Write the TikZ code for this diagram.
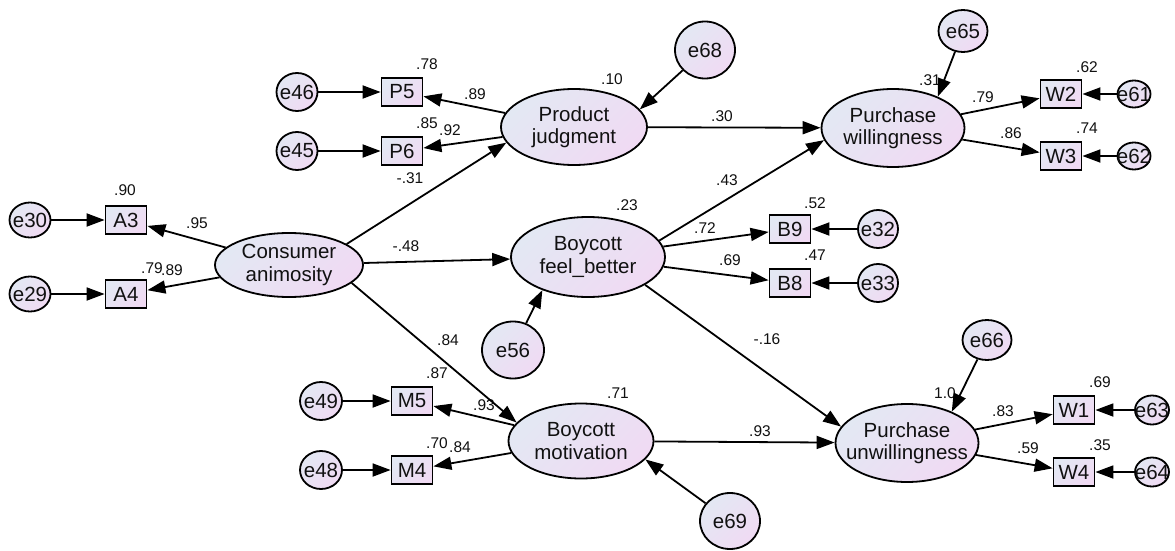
\documentclass[tikz,border=0pt]{standalone}
\usepackage{fontspec}
\setmainfont{Liberation Sans}
\usetikzlibrary{shapes.geometric,arrows.meta}
\definecolor{shA}{HTML}{E3E8F3}
\definecolor{shB}{HTML}{F0DAF3}
\definecolor{txt}{HTML}{111111}
\newcommand{\zw}[1]{\makebox[0pt]{#1}}
\tikzset{
  base/.style={draw=black, line width=1.8pt, top color=shA, bottom color=shB, shading angle=45, inner sep=0pt, text=txt, font=\fontsize{20.5}{22.5}\selectfont},
  lat/.style={base, ellipse, align=center},
  err/.style={base, ellipse},
  obs/.style={base, rectangle, minimum width=41pt, minimum height=28pt},
  num/.style={inner sep=0pt, text=txt, font=\fontsize{15.5}{17}\selectfont},
  arr/.style={line width=1.8pt, -{Triangle[length=18pt,width=13pt]}}
}
\begin{document}
\begin{tikzpicture}[x=1pt,y=-1pt]
\useasboundingbox[fill=white] (0,0) rectangle (1175,551);
% latent variables
\node[lat, minimum width=148pt, minimum height=64pt] (ca) at (289,265) {\zw{Consumer}\\\zw{animosity}};
\node[lat, minimum width=146pt, minimum height=76pt] (pj) at (574,127) {\zw{Product}\\\zw{judgment}};
\node[lat, minimum width=143pt, minimum height=78pt] (pw) at (893,128) {\zw{Purchase}\\\zw{willingness}};
\node[lat, minimum width=154pt, minimum height=80pt] (bfb) at (588,257) {\zw{Boycott}\\\zw{feel\_better}};
\node[lat, minimum width=145pt, minimum height=75pt] (bm) at (581,441) {\zw{Boycott}\\\zw{motivation}};
\node[lat, minimum width=143pt, minimum height=78pt] (pu) at (907,443) {\zw{Purchase}\\\zw{unwillingness}};
% observed
\node[obs] (a3) at (126,220) {A3};
\node[obs] (a4) at (126,294) {A4};
\node[obs] (p5) at (402,92) {P5};
\node[obs] (p6) at (402,151) {P6};
\node[obs] (w2) at (1061,94) {W2};
\node[obs] (w3) at (1061,156) {W3};
\node[obs] (b9) at (790,229) {B9};
\node[obs] (b8) at (790,283) {B8};
\node[obs] (m5) at (412,401) {M5};
\node[obs] (m4) at (412,470) {M4};
\node[obs] (w1) at (1074,410) {W1};
\node[obs] (w4) at (1074,472) {W4};
% errors
\node[err, minimum width=41pt, minimum height=35pt] (e30) at (30,220) {\zw{e30}};
\node[err, minimum width=41pt, minimum height=35pt] (e29) at (30,294) {\zw{e29}};
\node[err, minimum width=41pt, minimum height=38pt] (e46) at (297,92) {\zw{e46}};
\node[err, minimum width=41pt, minimum height=38pt] (e45) at (297,151) {\zw{e45}};
\node[err, minimum width=33pt, minimum height=27pt] (e61) at (1134,94) {\zw{e61}};
\node[err, minimum width=33pt, minimum height=27pt] (e62) at (1134,156) {\zw{e62}};
\node[err, minimum width=40pt, minimum height=38pt] (e32) at (878,229) {\zw{e32}};
\node[err, minimum width=40pt, minimum height=38pt] (e33) at (878,283) {\zw{e33}};
\node[err, minimum width=42pt, minimum height=38pt] (e49) at (321,401) {\zw{e49}};
\node[err, minimum width=42pt, minimum height=38pt] (e48) at (321,470) {\zw{e48}};
\node[err, minimum width=34pt, minimum height=29pt] (e63) at (1152,410) {\zw{e63}};
\node[err, minimum width=34pt, minimum height=29pt] (e64) at (1152,472) {\zw{e64}};
\node[err, minimum width=60pt, minimum height=57pt] (e68) at (705,50) {\zw{e68}};
\node[err, minimum width=49pt, minimum height=42pt] (e65) at (963,31) {\zw{e65}};
\node[err, minimum width=62pt, minimum height=57pt] (e56) at (513,350) {\zw{e56}};
\node[err, minimum width=60pt, minimum height=56pt] (e69) at (730,521) {\zw{e69}};
\node[err, minimum width=49pt, minimum height=40pt] (e66) at (987,340) {\zw{e66}};
% numbers
\node[num] (n1) at (125,190) {.90};
\node[num] (n2) at (197,223) {.95};
\node[num] (n3) at (152,268) {.79};
\node[num] (n4) at (172,270) {.89};
\node[num] (n5) at (427,64) {.78};
\node[num] (n6) at (475,94) {.89};
\node[num] (n7) at (427,123) {.85};
\node[num] (n8) at (450,130) {.92};
\node[num] (n9) at (612,79) {.10};
\node[num] (n10) at (410,178) {-.31};
\node[num] (n11) at (722,116) {.30};
\node[num] (n12) at (930,80) {.31};
\node[num] (n13) at (983,97) {.79};
\node[num] (n14) at (1087,67) {.62};
\node[num] (n15) at (1011,133) {.86};
\node[num] (n16) at (1087,128) {.74};
\node[num] (n17) at (406,246) {-.48};
\node[num] (n18) at (627,205) {.23};
\node[num] (n19) at (727,180) {.43};
\node[num] (n20) at (705,228) {.72};
\node[num] (n21) at (815,203) {.52};
\node[num] (n22) at (730,260) {.69};
\node[num] (n23) at (815,255) {.47};
\node[num] (n24) at (767,339) {-.16};
\node[num] (n25) at (448,340) {.84};
\node[num] (n26) at (437,373) {.87};
\node[num] (n27) at (484,405) {.93};
\node[num] (n28) at (437,443) {.70};
\node[num] (n29) at (460,447) {.84};
\node[num] (n30) at (618,393) {.71};
\node[num] (n31) at (760,431) {.93};
\node[num] (n32) at (945,393) {1.0};
\node[num] (n33) at (1003,411) {.83};
\node[num] (n34) at (1100,382) {.69};
\node[num] (n35) at (1028,448) {.59};
\node[num] (n36) at (1100,445) {.35};
% error arrows
\draw[arr] (e30) -- (a3);
\draw[arr] (e29) -- (a4);
\draw[arr] (e46) -- (p5);
\draw[arr] (e45) -- (p6);
\draw[arr] (e49) -- (m5);
\draw[arr] (e48) -- (m4);
\draw[arr] (e61) -- (w2);
\draw[arr] (e62) -- (w3);
\draw[arr] (e32) -- (b9);
\draw[arr] (e33) -- (b8);
\draw[arr] (e63) -- (w1);
\draw[arr] (e64) -- (w4);
\draw[arr] (e68) -- (pj.15);
\draw[arr] (e65) -- (pw.35);
\draw[arr] (e66) -- (pu.35);
\draw[arr] (e56) -- (bfb.216);
\draw[arr] (e69) -- (bm.-16);
% loadings
\draw[arr] (ca) -- (a3);
\draw[arr] (ca) -- (a4);
\draw[arr] (pj) -- (p5);
\draw[arr] (pj) -- (p6);
\draw[arr] (pw) -- (w2);
\draw[arr] (pw) -- (w3);
\draw[arr] (bfb) -- (b9);
\draw[arr] (bfb) -- (b8);
\draw[arr] (bm) -- (m5);
\draw[arr] (bm) -- (m4);
\draw[arr] (pu) -- (w1);
\draw[arr] (pu) -- (w4);
% structural paths
\draw[arr] (ca.20) -- (pj.193);
\draw[arr] (ca) -- (bfb);
\draw[arr] (ca.-16) -- (bm.164);
\draw[arr] (pj) -- (pw);
\draw[arr] (bfb.13) -- (pw.190);
\draw[arr] (bfb.-26) -- (pu.166);
\draw[arr] (bm) -- (pu);
\end{tikzpicture}
\end{document}
